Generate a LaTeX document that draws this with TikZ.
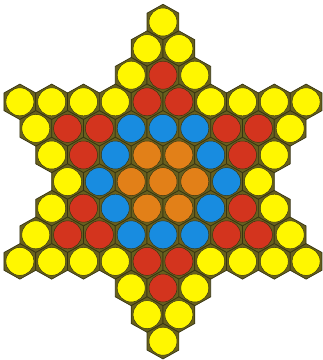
\documentclass[tikz,border=0pt]{standalone}
\usepackage{tikz}
\usetikzlibrary{positioning}
\definecolor{Y}{RGB}{255,247,0}
\definecolor{R}{RGB}{211,52,30}
\definecolor{B}{RGB}{24,140,224}
\definecolor{O}{RGB}{226,128,24}
\definecolor{hexfill}{RGB}{104,96,30}
\definecolor{hexline}{RGB}{54,52,18}

\begin{document}
\begin{tikzpicture}[
        x=31.8pt,
        y=-26.6pt,
        hexcell/.style={
            fill=hexfill,
            draw=hexline,
            line width=0.7pt,
            line join=miter
        },
        disc/.style={
            circle,
            draw=hexline,
            line width=0.5pt,
            inner sep=0pt,
            minimum size=28pt
        }
    ]
        \useasboundingbox (-163pt,-178.4pt) rectangle (160pt,181.6pt);
        % one entry per row: colours from left to right / number of cells
        \foreach \cols/\n [count=\r] in {
            {Y}/1,
            {Y,Y}/2,
            {Y,R,Y}/3,
            {Y,Y,Y,Y,R,R,Y,Y,Y,Y}/10,
            {Y,R,R,B,B,B,R,R,Y}/9,
            {Y,R,B,O,O,B,R,Y}/8,
            {Y,B,O,O,O,B,Y}/7,
            {Y,R,B,O,O,B,R,Y}/8,
            {Y,R,R,B,B,B,R,R,Y}/9,
            {Y,Y,Y,Y,R,R,Y,Y,Y,Y}/10,
            {Y,R,Y}/3,
            {Y,Y}/2,
            {Y}/1
        }{
            \foreach \c [count=\k] in \cols {
                \pgfmathsetmacro{\cx}{\k-(\n+1)/2}
                \pgfmathsetmacro{\cy}{\r-7}
                \draw[hexcell] (\cx,\cy) +(0,-2/3) -- +(0.5,-1/3) -- +(0.5,1/3)
                    -- +(0,2/3) -- +(-0.5,1/3) -- +(-0.5,-1/3) -- cycle;
                \node[disc, fill=\c] (c\r-\k) at (\cx,\cy) {};
            }
        }
    \end{tikzpicture}
\end{document}
